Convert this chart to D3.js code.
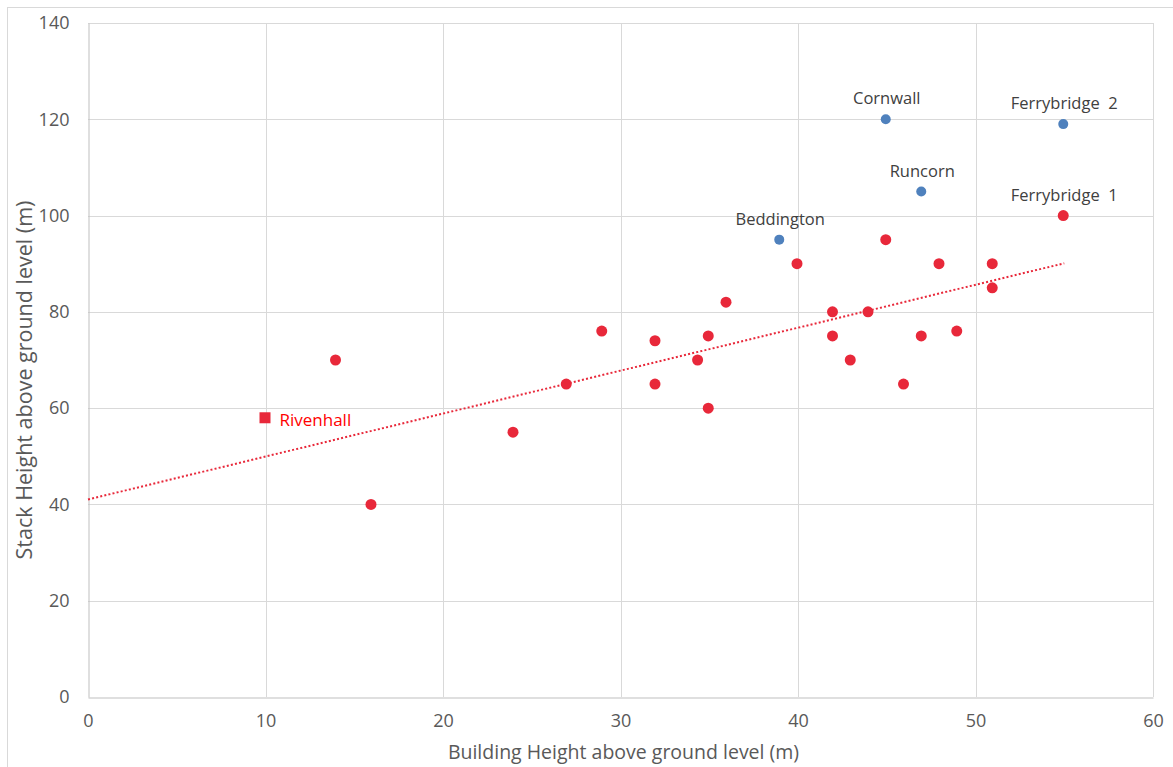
<!DOCTYPE html>
<html>
<head>
<meta charset="utf-8">
<script src="https://cdn.jsdelivr.net/npm/d3@7"></script>
<style>
  html, body { margin: 0; padding: 0; background: #fff; }
  svg { display: block; font-family: "Open Sans", "Liberation Sans", sans-serif; }
</style>
</head>
<body>
<svg id="chart" width="1173" height="767"></svg>
<script>
// Stack height vs building height for existing plants (red), labelled reference plants (blue)
// and the proposed Rivenhall stack (square).
const plantX = [14, 16, 24, 27, 29, 32, 32, 34.4, 35, 35, 36, 40, 42, 42, 43, 44, 45, 46, 47, 48, 49, 51, 51, 55];
const plantY = [70, 40, 55, 65, 76, 74, 65, 70, 75, 60, 82, 90, 80, 75, 70, 80, 95, 65, 75, 90, 76, 90, 85, 100];
const plantNames = ["", "", "", "", "", "", "", "", "", "", "", "", "", "", "", "", "", "", "", "", "", "", "", "Ferrybridge  1"];

const refNames = ["Beddington", "Cornwall", "Runcorn", "Ferrybridge  2"];
const refX = [39, 45, 47, 55];
const refY = [95, 120, 105, 119];

const proposedName = ["Rivenhall"];
const proposedX = [10];
const proposedY = [58];

const xTicks = [0, 10, 20, 30, 40, 50, 60];
const yTicks = [0, 20, 40, 60, 80, 100, 120, 140];

const RED = "#E8283A";
const BLUE = "#4F81BD";

const svg = d3.select("#chart");

const x = d3.scaleLinear().domain([0, 60]).range([88, 1153]);
const y = d3.scaleLinear().domain([0, 140]).range([697, 23]);

// outer chart frame
svg.append("rect")
  .attr("x", 7.5).attr("y", 7.5).attr("width", 1180).attr("height", 780)
  .attr("fill", "none").attr("stroke", "#d9d9d9").attr("stroke-width", 1);

// gridlines
const grid = svg.append("g");
grid.selectAll("line.gx").data(xTicks.slice(1)).join("line")
  .attr("x1", d => Math.round(x(d)) + 0.5).attr("x2", d => Math.round(x(d)) + 0.5)
  .attr("y1", y(140)).attr("y2", y(0))
  .attr("stroke", "#d9d9d9").attr("stroke-width", 1);
grid.selectAll("line.gy").data(yTicks.slice(1)).join("line")
  .attr("x1", x(0)).attr("x2", x(60))
  .attr("y1", d => Math.round(y(d)) + 0.5).attr("y2", d => Math.round(y(d)) + 0.5)
  .attr("stroke", "#d9d9d9").attr("stroke-width", 1);

// axes
const xAxis = d3.axisBottom(x).tickValues(xTicks).tickSize(0).tickPadding(17).tickFormat(d3.format("d"));
const yAxis = d3.axisLeft(y).tickValues(yTicks).tickSize(0).tickPadding(19).tickFormat(d3.format("d"));

const gx = svg.append("g").attr("transform", `translate(0,${Math.round(y(0)) + 0.5})`).call(xAxis);
const gy = svg.append("g").attr("transform", `translate(${Math.round(x(0)) + 0.5},0)`).call(yAxis);
[gx, gy].forEach(g => {
  g.select(".domain").attr("stroke", "#bfbfbf").attr("stroke-width", 1);
  g.selectAll("text").attr("fill", "#595959").style("font-size", "18px")
    .style("font-family", "'Open Sans', 'Liberation Sans', sans-serif");
});

// axis titles
svg.append("text")
  .attr("x", (x(0) + x(60)) / 2 + 3).attr("y", 759)
  .attr("text-anchor", "middle").attr("fill", "#595959").style("font-size", "19.5px")
  .text("Building Height above ground level (m)");
svg.append("text")
  .attr("transform", `translate(32,${(y(0) + y(140)) / 2 + 20}) rotate(-90)`)
  .attr("text-anchor", "middle").attr("fill", "#595959").style("font-size", "21.5px")
  .text("Stack Height above ground level (m)");

// linear least-squares trendline through the plant series
const mx = d3.mean(plantX), my = d3.mean(plantY);
const sxy = d3.sum(plantX, (v, i) => (v - mx) * (plantY[i] - my));
const sxx = d3.sum(plantX, v => (v - mx) * (v - mx));
const slope = sxy / sxx;
const intercept = my - slope * mx;
const trendEnds = [0, d3.max(plantX)];
svg.append("path")
  .datum(trendEnds)
  .attr("d", d3.line().x(d => x(d)).y(d => y(intercept + slope * d)))
  .attr("fill", "none").attr("stroke", RED).attr("stroke-width", 2)
  .attr("stroke-dasharray", "2 2.2");

// plant points
const plants = plantX.map((v, i) => ({ x: v, y: plantY[i], name: plantNames[i] }));
svg.append("g").selectAll("circle").data(plants).join("circle")
  .attr("cx", d => x(d.x) - 1).attr("cy", d => y(d.y)).attr("r", 5.5)
  .attr("fill", RED);

// reference points
const refs = refX.map((v, i) => ({ x: v, y: refY[i], name: refNames[i] }));
svg.append("g").selectAll("circle").data(refs).join("circle")
  .attr("cx", d => x(d.x) - 1).attr("cy", d => y(d.y)).attr("r", 5)
  .attr("fill", BLUE);

// labels above named points
const labelled = refs.concat(plants.filter(d => d.name));
svg.append("g").selectAll("text").data(labelled).join("text")
  .attr("x", d => x(d.x)).attr("y", d => y(d.y) - 15)
  .attr("text-anchor", "middle").attr("fill", "#404040")
  .style("font-size", "16.5px").style("white-space", "pre")
  .text(d => d.name);

// proposed stack
const proposed = proposedX.map((v, i) => ({ x: v, y: proposedY[i], name: proposedName[i] }));
svg.append("g").selectAll("rect").data(proposed).join("rect")
  .attr("x", d => x(d.x) - 6).attr("y", d => y(d.y) - 5.5)
  .attr("width", 11).attr("height", 11).attr("fill", RED);
svg.append("g").selectAll("text").data(proposed).join("text")
  .attr("x", d => x(d.x) + 14).attr("y", d => y(d.y) + 8)
  .attr("fill", "#FF0000").style("font-size", "17px")
  .text(d => d.name);
</script>
</body>
</html>
